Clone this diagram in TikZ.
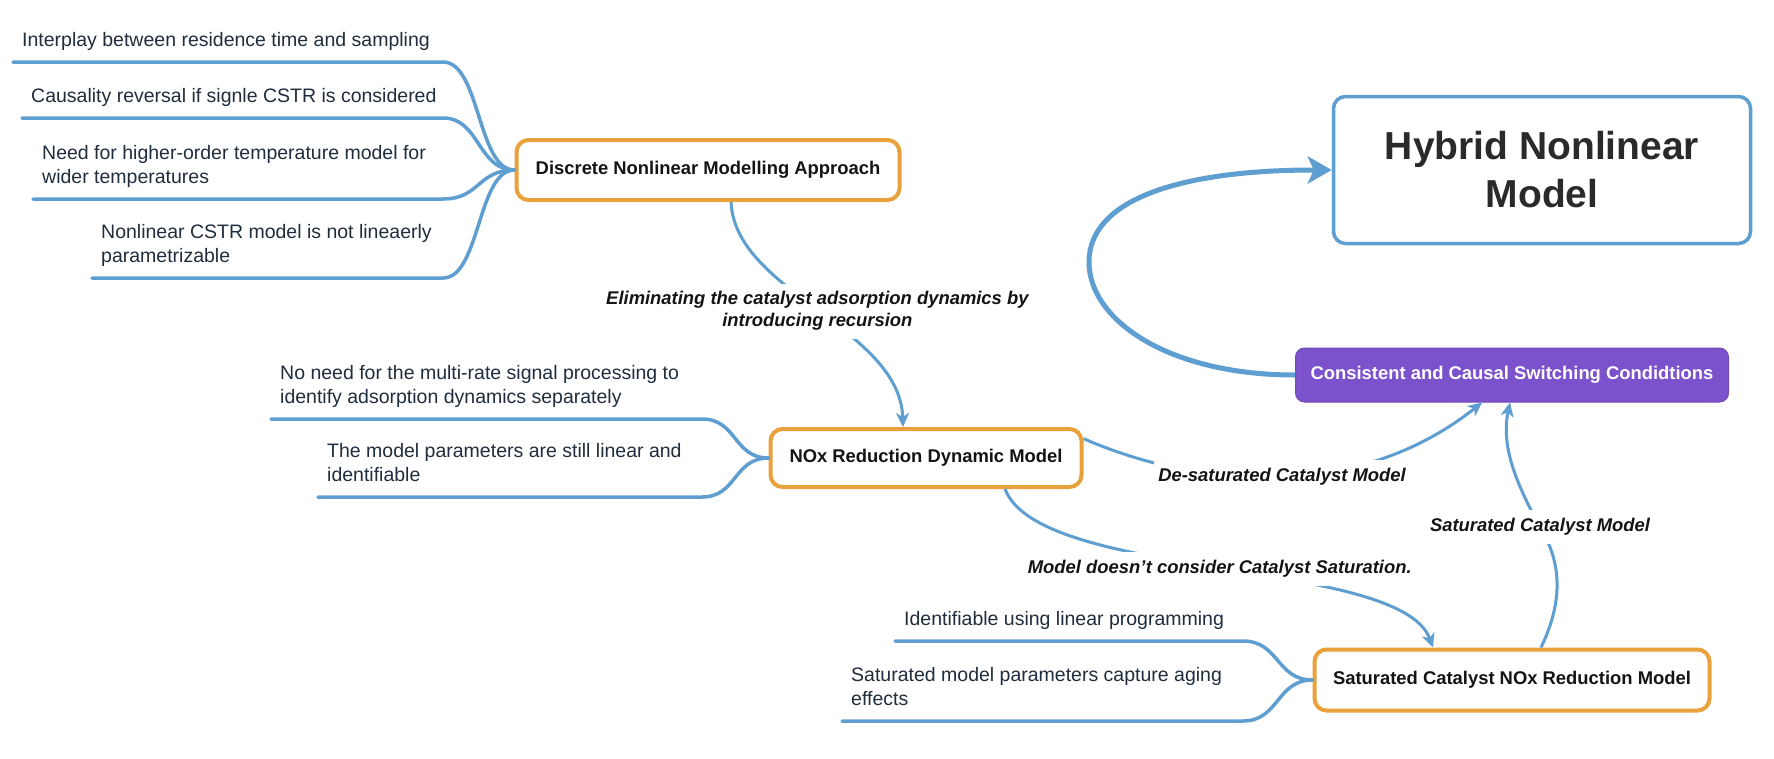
\documentclass[tikz,border=0pt]{standalone}
\usepackage{fontspec}
\setmainfont{Liberation Sans}
\usetikzlibrary{arrows.meta}
\definecolor{brc}{HTML}{5F9ED1}
\definecolor{orng}{HTML}{E9A23B}
\definecolor{purp}{HTML}{7B52CC}
\definecolor{leaftxt}{HTML}{1F2D3D}
\definecolor{labtxt}{HTML}{141414}
\definecolor{hybtxt}{HTML}{2A2A2A}
\begin{document}
\begin{tikzpicture}[x=1pt,y=-1pt,
  leaf/.style={font=\fontsize{19.5}{24}\selectfont, text=leaftxt, align=left,
    anchor=south west, inner xsep=9pt, inner ysep=8pt},
  br/.style={draw=brc, line width=3.5pt, line cap=round},
  conn/.style={draw=brc, line width=3pt, -{Stealth[length=14pt,width=13pt,inset=4pt]}},
  bigloop/.style={draw=brc, line width=5pt, -{Stealth[length=24pt,width=27pt,inset=6pt]}},
  obox/.style={draw=orng, line width=4pt, rounded corners=12pt, fill=white,
    font=\bfseries\fontsize{18.4}{22}\selectfont, text=labtxt, inner sep=0pt},
  lab/.style={fill=white, font=\bfseries\itshape\fontsize{18.4}{22}\selectfont,
    text=labtxt, align=center, inner xsep=4pt, inner ysep=8pt}
]
\fill[white] (0,0) rectangle (1774,758);
\useasboundingbox (0,0) rectangle (1774,758);

% main nodes
\node[obox, minimum width=383pt, minimum height=60pt] (disc) at (708,170) {Discrete Nonlinear Modelling Approach};
\node[obox, minimum width=311pt, minimum height=58pt] (nox) at (926,458) {NOx Reduction Dynamic Model};
\node[obox, minimum width=395pt, minimum height=61pt] (sat) at (1512,680) {Saturated Catalyst NOx Reduction Model};
\node[draw=brc, line width=3.5pt, rounded corners=12pt, fill=white, minimum width=417pt, minimum height=147pt,
  align=center, font=\bfseries\fontsize{39}{48}\selectfont, text=hybtxt] (hyb) at (1542,170) {Hybrid Nonlinear\\Model};
\node[fill=purp, draw=purp!90!black, line width=1pt, rounded corners=9pt, minimum width=433pt, minimum height=54pt,
  font=\bfseries\fontsize{18.4}{22}\selectfont, text=white, inner sep=0pt] (cons) at (1512,375) {Consistent and Causal Switching Condidtions};

% junction x positions
\coordinate (jd) at (443,0);
\coordinate (jn) at (702,0);
\coordinate (js) at (1243,0);

% leaves of Discrete
\node[leaf] (d1) at (13,62) {Interplay between residence time and sampling\strut};
\node[leaf] (d2) at (22,118) {Causality reversal if signle CSTR is considered\strut};
\node[leaf] (d3) at (33,199) {Need for higher-order temperature model for\\wider temperatures\strut};
\node[leaf] (d4) at (92,278) {Nonlinear CSTR model is not lineaerly\\parametrizable\strut};
\foreach \n in {d1,d2,d3,d4}
  \draw[br] (\n.south west) -- (\n.south west -| jd) .. controls +(37,0) and +(-37,0) .. (disc.west);

% leaves of NOx
\node[leaf] (n1) at (271,419) {No need for the multi-rate signal processing to\\identify adsorption dynamics separately\strut};
\node[leaf] (n2) at (318,497) {The model parameters are still linear and\\identifiable\strut};
\foreach \n in {n1,n2}
  \draw[br] (\n.south west) -- (\n.south west -| jn) .. controls +(35,0) and +(-35,0) .. (nox.west);

% leaves of Saturated
\node[leaf] (s1) at (895,641) {Identifiable using linear programming\strut};
\node[leaf] (s2) at (842,721) {Saturated model parameters capture aging\\effects\strut};
\foreach \n in {s1,s2}
  \draw[br] (\n.south west) -- (\n.south west -| js) .. controls +(36,0) and +(-36,0) .. (sat.west);

% connectors with labels
\draw[conn] ([xshift=23pt]disc.south) .. controls +(4,90) and +(-3,-99) .. ([xshift=-23pt]nox.north)
  node[lab, pos=0.5] (l1) {Eliminating the catalyst adsorption dynamics by\\introducing recursion};
\draw[conn] ([xshift=79pt]nox.south) .. controls +(35,92) and +(-33,-90) .. ([xshift=-79pt]sat.north)
  node[lab, pos=0.5] (l2) {Model doesn't consider Catalyst Saturation.};
\draw[conn] (nox.7) .. controls +(120,52) and +(-122,97) .. ([xshift=-30pt]cons.south)
  node[lab, pos=0.5] (l3) {De-saturated Catalyst Model};
\coordinate (m4) at (1540,527);
\draw[conn] ([xshift=29pt]sat.north) .. controls +(24,-50) and +(20,33) .. (m4)
  .. controls +(-20,-37) and +(-10,47) .. ([xshift=-2pt]cons.south);
\node[lab] (l4) at (m4) {Saturated Catalyst Model};

% big loop
\draw[bigloop] (cons.west) .. controls +(-127,0) and +(0,58) .. (1089,262)
  .. controls +(0,-62) and +(-153,0) .. (hyb.west);
\end{tikzpicture}
\end{document}
